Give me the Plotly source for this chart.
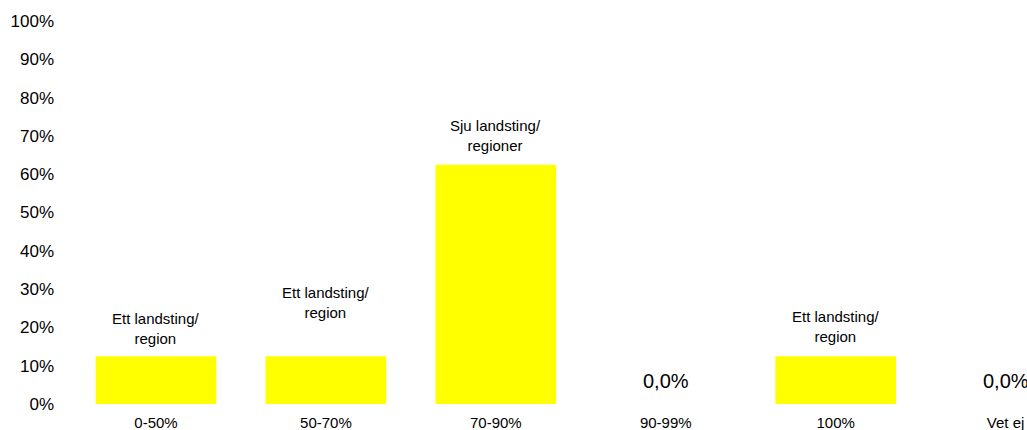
import plotly.graph_objects as go

categories = ["0-50%", "50-70%", "70-90%", "90-99%", "100%", "Vet ej"]
values = [12.5, 12.5, 62.5, 0.0, 12.5, 0.0]
bar_labels = ["Ett landsting/<br>region", "Ett landsting/<br>region", "Sju landsting/<br>regioner",
              "0,0%", "Ett landsting/<br>region", "0,0%"]
label_shift = [7.5, 33.5, 9, 10, 9, 10]
y_ticks = list(range(0, 101, 10))
y_tick_text = [f"{t}%" for t in y_ticks]

font_family = "Liberation Sans, Arial, sans-serif"

fig = go.Figure()
fig.add_trace(go.Bar(
    x=categories, y=values,
    marker=dict(color="#FFFF00", line=dict(width=0)),
    hoverinfo="skip",
    cliponaxis=False,
))

for c, v, t, s in zip(categories, values, bar_labels, label_shift):
    fig.add_annotation(
        x=c, y=v, text=t, showarrow=False,
        yanchor="bottom", yshift=s,
        font=dict(family=font_family, size=20 if v == 0 else 15, color="#000000"),
        align="center",
    )

fig.update_layout(
    width=1027, height=430,
    margin=dict(l=70.5, r=0, t=21, b=26),
    plot_bgcolor="white", paper_bgcolor="white",
    bargap=0.29,
    showlegend=False,
    font=dict(family=font_family, color="#000000"),
    xaxis=dict(
        type="category",
        range=[-0.5, 5.126],
        showgrid=False, showline=False, zeroline=False,
        ticks="", tickfont=dict(size=15),
        ticklabelstandoff=8,
        automargin=False,
    ),
    yaxis=dict(
        range=[0, 100],
        tickvals=y_ticks, ticktext=y_tick_text,
        showgrid=False, showline=False, zeroline=False,
        ticks="", tickfont=dict(size=17),
        ticklabelstandoff=16,
        automargin=False,
    ),
)

fig.write_html(
    "out.html",
    config={"displayModeBar": False},
    post_script="document.body.style.margin='0';document.body.style.overflow='hidden';",
)
